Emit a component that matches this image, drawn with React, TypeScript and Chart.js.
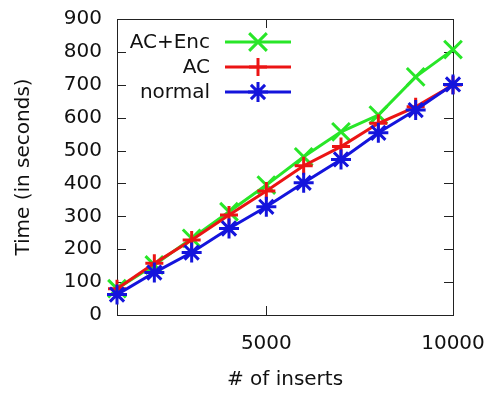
import React, { useEffect, useRef } from "react";
import { Chart, registerables } from "chart.js";
import { drawPoint } from "chart.js/helpers";

Chart.register(...registerables);

const inserts = [1000, 2000, 3000, 4000, 5000, 6000, 7000, 8000, 9000, 10000];
const acEnc = [80, 152, 233, 314, 395, 481, 557, 608, 724, 807];
const ac = [80, 157, 228, 304, 377, 454, 512, 583, 633, 699];
const normal = [62, 129, 190, 263, 329, 402, 473, 554, 623, 701];
const xTickValues = [5000, 10000];
const yTickValues = [0, 100, 200, 300, 400, 500, 600, 700, 800, 900];
const seriesNames = ["AC+Enc", "AC", "normal"];

const GREEN = "rgb(40,230,40)";
const RED = "rgb(235,20,20)";
const BLUE = "rgb(20,20,220)";
const FONT = "'DejaVu Sans', sans-serif";
const FS = 20;

const framePlugin = {
  id: "frame",
  beforeDatasetsDraw(chart: any) {
    const { ctx, chartArea } = chart;
    const { left, right, top, bottom } = chartArea;
    const xs = chart.scales.x;
    const ys = chart.scales.y;
    ctx.save();
    ctx.strokeStyle = "#222";
    ctx.lineWidth = 1;
    ctx.strokeRect(Math.round(left) + 0.5, Math.round(top) + 0.5, Math.round(right - left), Math.round(bottom - top));
    ctx.beginPath();
    const tl = 9;
    yTickValues.forEach((v) => {
      if (v === yTickValues[0] || v === yTickValues[yTickValues.length - 1]) return;
      const y = Math.round(ys.getPixelForValue(v)) + 0.5;
      ctx.moveTo(left, y);
      ctx.lineTo(left + tl, y);
      ctx.moveTo(right, y);
      ctx.lineTo(right - tl, y);
    });
    xTickValues.forEach((v) => {
      if (v === xs.max) return;
      const x = Math.round(xs.getPixelForValue(v)) + 0.5;
      ctx.moveTo(x, bottom);
      ctx.lineTo(x, bottom - tl);
      ctx.moveTo(x, top);
      ctx.lineTo(x, top + tl);
    });
    ctx.stroke();
    ctx.restore();
  },
};

const keyPlugin = {
  id: "gkey",
  afterDraw(chart: any) {
    const { ctx } = chart;
    const textRight = 210;
    const x0 = 225;
    const x1 = 291;
    const rows = [42, 67, 92];
    ctx.save();
    ctx.font = `${FS}px ${FONT}`;
    ctx.textAlign = "right";
    ctx.textBaseline = "middle";
    chart.data.datasets.forEach((ds: any, i: number) => {
      const y = rows[i];
      ctx.fillStyle = "#111";
      ctx.fillText(ds.label, textRight, y + 1);
      ctx.strokeStyle = ds.borderColor;
      ctx.lineWidth = ds.borderWidth;
      ctx.beginPath();
      ctx.moveTo(x0, y);
      ctx.lineTo(x1, y);
      ctx.stroke();
      ctx.strokeStyle = ds.pointBorderColor;
      ctx.fillStyle = ds.pointBorderColor;
      ctx.lineWidth = ds.pointBorderWidth;
      drawPoint(ctx, { pointStyle: ds.pointStyle, radius: ds.pointRadius, rotation: 0, borderWidth: ds.pointBorderWidth }, (x0 + x1) / 2, y);
    });
    ctx.restore();
  },
};

export default function App() {
  const ref = useRef<HTMLCanvasElement>(null);
  useEffect(() => {
    document.body.style.margin = "0";
    const mk = (name: string, data: number[], color: string, style: string, r: number, order: number) => ({
      label: name,
      data: inserts.map((x, i) => ({ x, y: data[i] })),
      borderColor: color,
      backgroundColor: color,
      borderWidth: 3,
      pointStyle: style,
      pointRadius: r,
      pointBorderWidth: 3,
      pointBorderColor: color,
      pointBackgroundColor: color,
      clip: false,
      order,
    });
    const chart = new Chart(ref.current!, {
      type: "line",
      data: {
        datasets: [
          mk(seriesNames[0], acEnc, GREEN, "crossRot", 12.5, 2),
          mk(seriesNames[1], ac, RED, "cross", 9, 1),
          mk(seriesNames[2], normal, BLUE, "star", 10, 0),
        ],
      },
      plugins: [framePlugin, keyPlugin],
      options: {
        animation: false,
        responsive: false,
        layout: { padding: { top: 19, right: 42, left: 0, bottom: 0 } },
        plugins: { legend: { display: false }, tooltip: { enabled: false } },
        scales: {
          x: {
            type: "linear",
            min: inserts[0],
            max: inserts[inserts.length - 1],
            grid: { display: false, drawTicks: false },
            border: { display: false },
            afterBuildTicks: (s: any) => {
              s.ticks = xTickValues.map((v) => ({ value: v }));
            },
            afterFit: (s: any) => {
              s.height = 79;
              s.paddingLeft = 0;
              s.paddingRight = 0;
            },
            ticks: {
              padding: 17,
              maxRotation: 0,
              color: "#111",
              font: { family: FONT, size: FS },
              callback: (v: any) => String(v),
            },
            title: {
              display: true,
              text: "# of inserts",
              color: "#111",
              font: { family: FONT, size: FS },
              padding: { top: 0, bottom: 2 },
            },
          },
          y: {
            min: yTickValues[0],
            max: yTickValues[yTickValues.length - 1],
            grid: { display: false, drawTicks: false },
            border: { display: false },
            afterBuildTicks: (s: any) => {
              s.ticks = yTickValues.map((v) => ({ value: v }));
            },
            afterFit: (s: any) => {
              s.width = 117;
              s.paddingTop = 0;
              s.paddingBottom = 0;
            },
            ticks: {
              padding: 15,
              autoSkip: false,
              color: "#111",
              font: { family: FONT, size: FS },
              callback: (v: any) => String(v),
            },
            title: {
              display: true,
              text: "Time (in seconds)",
              color: "#111",
              font: { family: FONT, size: FS },
              padding: { top: 12, bottom: 0 },
            },
          },
        },
      },
    } as any);
    return () => chart.destroy();
  }, []);
  return (
    <div style={{ position: "absolute", left: 0, top: 0, width: 495, height: 394, background: "#fff" }}>
      <canvas ref={ref} width={495} height={394} style={{ display: "block" }} />
    </div>
  );
}
